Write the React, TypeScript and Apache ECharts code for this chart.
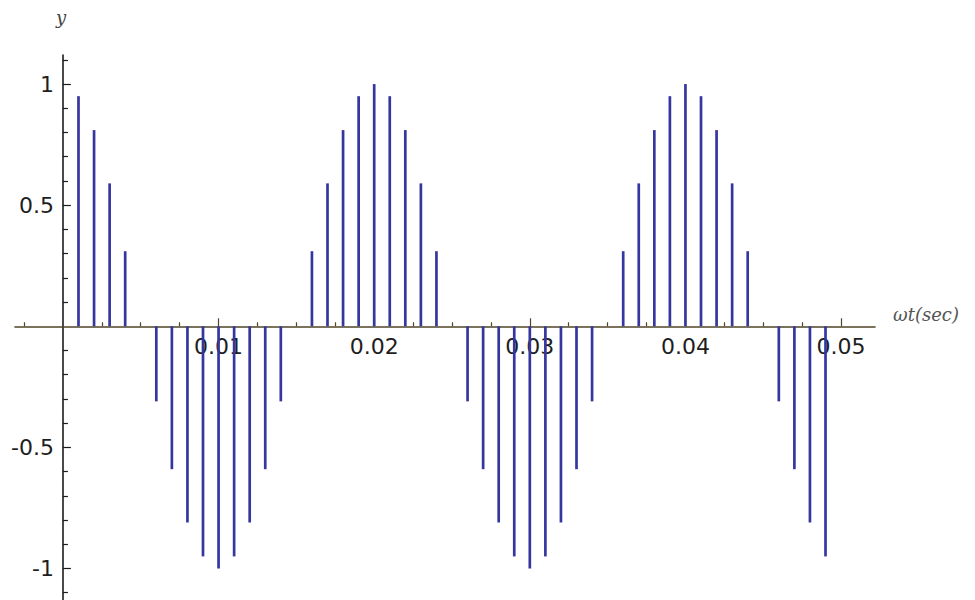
import React, { useEffect, useRef } from "react";
import * as echarts from "echarts";

// sample instants (seconds)
const sampleTimes = [
  0.001, 0.002, 0.003, 0.004, 0.005, 0.006, 0.007, 0.008, 0.009, 0.01,
  0.011, 0.012, 0.013, 0.014, 0.015, 0.016, 0.017, 0.018, 0.019, 0.02,
  0.021, 0.022, 0.023, 0.024, 0.025, 0.026, 0.027, 0.028, 0.029, 0.03,
  0.031, 0.032, 0.033, 0.034, 0.035, 0.036, 0.037, 0.038, 0.039, 0.04,
  0.041, 0.042, 0.043, 0.044, 0.045, 0.046, 0.047, 0.048, 0.049,
];
// sample values read from the stems
const sampleValues = [
  0.95, 0.81, 0.59, 0.31, 0, -0.31, -0.59, -0.81, -0.95, -1,
  -0.95, -0.81, -0.59, -0.31, 0, 0.31, 0.59, 0.81, 0.95, 1,
  0.95, 0.81, 0.59, 0.31, 0, -0.31, -0.59, -0.81, -0.95, -1,
  -0.95, -0.81, -0.59, -0.31, 0, 0.31, 0.59, 0.81, 0.95, 1,
  0.95, 0.81, 0.59, 0.31, 0, -0.31, -0.59, -0.81, -0.95,
];

const xMajorTicks = [0.01, 0.02, 0.03, 0.04, 0.05];
const xMajorLabels = ["0.01", "0.02", "0.03", "0.04", "0.05"];
const xMinorTicks = [
  -0.0025, 0.0025, 0.005, 0.0075, 0.0125, 0.015, 0.0175, 0.0225, 0.025,
  0.0275, 0.0325, 0.035, 0.0375, 0.0425, 0.045, 0.0475,
];
const yMajorTicks = [-1, -0.5, 0.5, 1];
const yMajorLabels = ["-1", "-0.5", "0.5", "1"];
const yMinorTicks = [
  -1.1, -0.9, -0.8, -0.7, -0.6, -0.4, -0.3, -0.2, -0.1, 0.1, 0.2, 0.3, 0.4,
  0.6, 0.7, 0.8, 0.9, 1.1,
];

const X_MIN = -0.00308;
const X_MAX = 0.05218;
const Y_MIN = -1.13;
const Y_MAX = 1.12;

const GRID_LEFT = 15;
const GRID_TOP = 55;
const GRID_W = 860;
const GRID_H = 545;

const STEM_COLOR = "#3636a0";
const XAXIS_COLOR = "#4f4426";
const YAXIS_COLOR = "#1c1c1c";
const LABEL_FONT = "DejaVu Sans";

export default function App() {
  const ref = useRef<HTMLDivElement>(null);

  useEffect(() => {
    if (!ref.current) return;
    const chart = echarts.init(ref.current, null, { renderer: "svg" });

    const labelMap = (vals: number[], labels: string[]) => (v: number) => {
      const i = vals.findIndex((t) => Math.abs(t - v) < 1e-9);
      return i >= 0 ? labels[i] : "";
    };

    // distance of the zero lines from the grid edges (axes drawn through the origin)
    const xZeroFromLeft = ((0 - X_MIN) / (X_MAX - X_MIN)) * GRID_W;
    const yZeroFromBottom = ((0 - Y_MIN) / (Y_MAX - Y_MIN)) * GRID_H;
    const xOffset = -yZeroFromBottom;
    const yOffset = -xZeroFromLeft;

    const xBase = {
      type: "value",
      min: X_MIN,
      max: X_MAX,
      position: "bottom",
      offset: xOffset,
      splitLine: { show: false },
    };
    const yBase = {
      type: "value",
      min: Y_MIN,
      max: Y_MAX,
      position: "left",
      offset: yOffset,
      splitLine: { show: false },
    };

    const option: any = {
      animation: false,
      backgroundColor: "#ffffff",
      grid: {
        left: GRID_LEFT,
        top: GRID_TOP,
        width: GRID_W,
        height: GRID_H,
        containLabel: false,
        outerBoundsMode: "none",
      },
      xAxis: [
        {
          ...xBase,
          axisLine: {
            show: true,
            onZero: false,
            lineStyle: { color: XAXIS_COLOR, width: 1.6 },
          },
          axisTick: {
            show: true,
            inside: true,
            length: 8,
            customValues: xMajorTicks,
            lineStyle: { color: XAXIS_COLOR, width: 1.2 },
          },
          axisLabel: {
            show: true,
            customValues: xMajorTicks,
            formatter: labelMap(xMajorTicks, xMajorLabels),
            fontFamily: LABEL_FONT,
            fontSize: 22,
            color: "#1e1e1e",
            margin: 9,
          },
        },
        {
          ...xBase,
          axisLine: { show: false, onZero: false },
          axisTick: {
            show: true,
            inside: true,
            length: 4,
            customValues: xMinorTicks,
            lineStyle: { color: XAXIS_COLOR, width: 1.2 },
          },
          axisLabel: { show: false },
        },
      ],
      yAxis: [
        {
          ...yBase,
          axisLine: {
            show: true,
            onZero: false,
            lineStyle: { color: YAXIS_COLOR, width: 1.6 },
          },
          axisTick: {
            show: true,
            inside: true,
            length: 8,
            customValues: yMajorTicks,
            lineStyle: { color: YAXIS_COLOR, width: 1.2 },
          },
          axisLabel: {
            show: true,
            customValues: yMajorTicks,
            formatter: labelMap(yMajorTicks, yMajorLabels),
            fontFamily: LABEL_FONT,
            fontSize: 22,
            color: "#1e1e1e",
            margin: 9,
          },
        },
        {
          ...yBase,
          axisLine: { show: false, onZero: false },
          axisTick: {
            show: true,
            inside: true,
            length: 5,
            customValues: yMinorTicks,
            lineStyle: { color: YAXIS_COLOR, width: 1.2 },
          },
          axisLabel: { show: false },
        },
      ],
      series: [
        {
          type: "custom",
          xAxisIndex: 0,
          yAxisIndex: 0,
          z: 3,
          data: sampleTimes.map((t, i) => [t, sampleValues[i]]),
          renderItem: (_params: any, api: any) => {
            const x = api.value(0);
            const y = api.value(1);
            const p0 = api.coord([x, 0]);
            const p1 = api.coord([x, y]);
            return {
              type: "line",
              shape: { x1: p0[0], y1: p0[1], x2: p1[0], y2: p1[1] },
              style: { stroke: STEM_COLOR, lineWidth: 2.7, lineCap: "butt" },
            };
          },
        },
      ],
      graphic: [
        {
          type: "text",
          left: 56,
          top: 8,
          style: {
            text: "y",
            font: "italic 18px 'DejaVu Serif'",
            fill: "#444",
          },
        },
        {
          type: "text",
          left: 893,
          top: 305,
          style: {
            text: "ωt(sec)",
            font: "italic 18px 'DejaVu Serif'",
            fill: "#555",
          },
        },
      ],
    };

    chart.setOption(option);
    return () => chart.dispose();
  }, []);

  return (
    <div
      ref={ref}
      style={{ position: "fixed", left: 0, top: 0, width: 975, height: 600 }}
    />
  );
}
